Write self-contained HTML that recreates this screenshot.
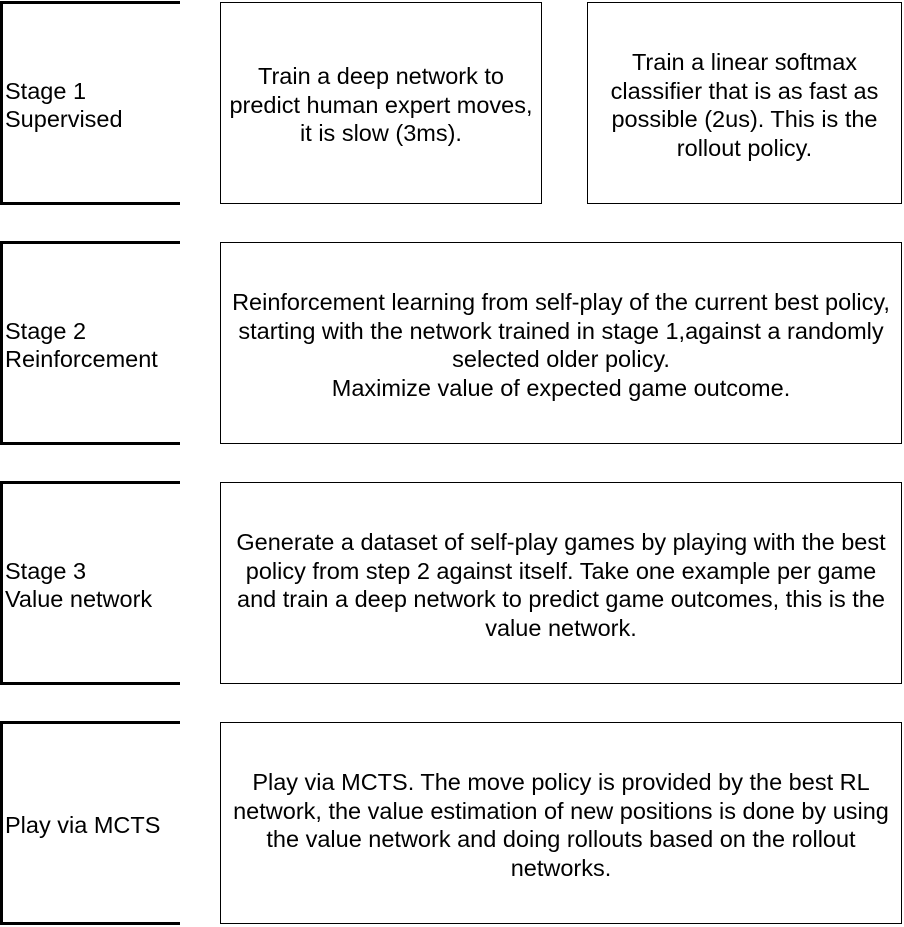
<!DOCTYPE html>
<html><head><style>
body{margin:0;width:904px;height:926px;background:#fff;position:relative;overflow:hidden;font-family:"Liberation Sans",sans-serif;font-size:23.5px;line-height:28.5px;color:#000}
.br{position:absolute;left:0;width:177px;height:198px;border:3px solid #000;border-right:none;box-sizing:content-box}
.lab{position:absolute;left:5px;width:175px;display:flex;align-items:center;height:204px;white-space:nowrap}
.bx{position:absolute;border:1.5px solid #000;box-sizing:border-box;display:flex;align-items:center;justify-content:center;text-align:center;padding:4px 2px 0}
</style></head><body>
<div class="br" style="top:1px"></div><div class="lab" style="top:3px">Stage 1<br>Supervised</div>
<div class="br" style="top:241px"></div><div class="lab" style="top:243px">Stage 2<br>Reinforcement</div>
<div class="br" style="top:481px"></div><div class="lab" style="top:483px">Stage 3<br>Value network</div>
<div class="br" style="top:721px"></div><div class="lab" style="top:723px">Play via MCTS</div>
<div class="bx" style="left:220px;top:2px;width:322px;height:202px;padding:4px 4px 0">Train a deep network to predict human expert moves, it is slow (3ms).</div>
<div class="bx" style="left:587px;top:2px;width:315px;height:202px;padding:4px 12px 0">Train a linear softmax classifier that is as fast as possible (2us). This is the rollout policy.</div>
<div class="bx" style="left:220px;top:242px;width:682px;height:202px">Reinforcement learning from self-play of the current best policy, starting with the network trained in stage 1,against a randomly selected older policy.<br>Maximize value of expected game outcome.</div>
<div class="bx" style="left:220px;top:482px;width:682px;height:202px;padding:4px 6px 0">Generate a dataset of self-play games by playing with the best policy from step 2 against itself. Take one example per game and train a deep network to predict game outcomes, this is the value network.</div>
<div class="bx" style="left:220px;top:722px;width:682px;height:202px;padding:4px 4px 0">Play via MCTS. The move policy is provided by the best RL network, the value estimation of new positions is done by using the value network and doing rollouts based on the rollout networks.</div>
</body></html>
